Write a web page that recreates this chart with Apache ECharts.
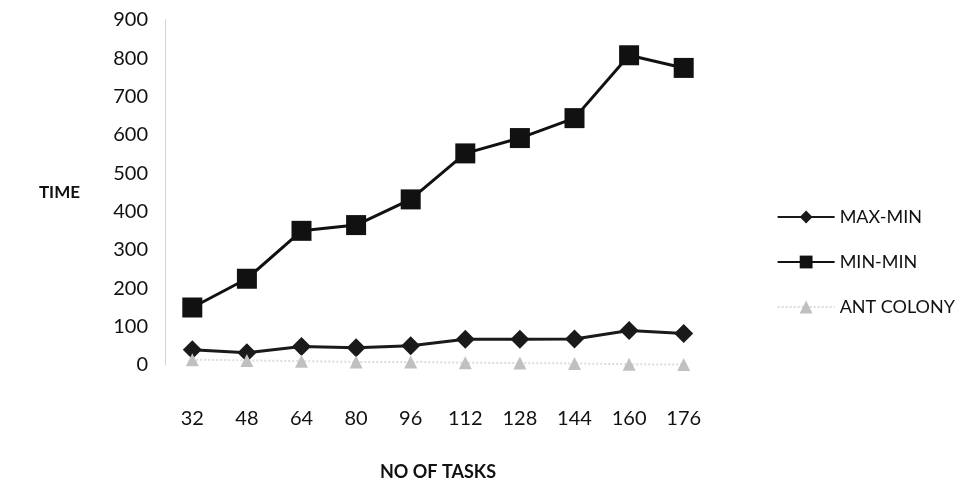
<!DOCTYPE html>
<html>
<head>
<meta charset="utf-8">
<script src="https://cdn.jsdelivr.net/npm/echarts@6/dist/echarts.min.js"></script>
<style>
  html, body { margin: 0; padding: 0; background: #fff; }
  #chart { width: 966px; height: 486px; }
</style>
</head>
<body>
<div id="chart"></div>
<script>
// tasks on the x axis
var tasks = ['32', '48', '64', '80', '96', '112', '128', '144', '160', '176'];
// times
var maxMin = [40, 32, 48, 45, 50, 67, 67, 68, 90, 82];
var minMin = [150, 225, 350, 365, 432, 552, 592, 644, 808, 775];
var antColony = [14, 12, 10, 8, 8, 6, 5, 4, 2, 1];

var dom = document.getElementById('chart');
var myChart = echarts.init(dom);
var font = 'Lato, "Open Sans", sans-serif';

var option = {
    animation: false,
    grid: { left: 165, right: 255, top: 20, bottom: 113 },
    legend: {
        orient: 'vertical',
        right: 6,
        top: 203,
        itemWidth: 57,
        itemHeight: 16,
        itemGap: 27,
        textStyle: { fontFamily: font, fontSize: 18, color: '#111' },
        data: ['MAX-MIN', 'MIN-MIN', 'ANT COLONY']
    },
    xAxis: {
        type: 'category',
        data: tasks,
        name: 'NO OF TASKS',
        nameLocation: 'middle',
        nameGap: 98,
        nameTextStyle: { fontFamily: font, fontSize: 18, fontWeight: 'bold', color: '#111' },
        axisLine: { show: false },
        axisTick: { show: false },
        axisLabel: { margin: 44, fontFamily: font, fontSize: 20, color: '#111' }
    },
    yAxis: {
        type: 'value',
        min: 0,
        max: 900,
        interval: 100,
        name: 'TIME',
        nameLocation: 'middle',
        nameRotate: 0,
        nameGap: 85,
        nameTextStyle: { fontFamily: font, fontSize: 17, fontWeight: 'bold', color: '#111' },
        axisLine: { show: true, lineStyle: { color: '#ccc', type: 'dotted', width: 1 } },
        axisTick: { show: false },
        splitLine: { show: false },
        axisLabel: { margin: 17, fontFamily: font, fontSize: 20, color: '#111' }
    },
    series: [
        {
            name: 'MAX-MIN',
            type: 'line',
            data: maxMin,
            symbol: 'diamond',
            symbolSize: 19,
            color: '#1a1a1a',
            lineStyle: { width: 3, color: '#1a1a1a' },
            itemStyle: { color: '#1a1a1a' }
        },
        {
            name: 'MIN-MIN',
            type: 'line',
            data: minMin,
            symbol: 'rect',
            symbolSize: 20,
            color: '#111',
            lineStyle: { width: 3, color: '#111' },
            itemStyle: { color: '#111' }
        },
        {
            name: 'ANT COLONY',
            type: 'line',
            data: antColony,
            symbol: 'triangle',
            symbolSize: 13,
            color: '#c8c8c8',
            lineStyle: { width: 2, color: '#dcdcdc', type: 'dotted' },
            itemStyle: { color: '#c0c0c0' }
        }
    ]
};
myChart.setOption(option);
</script>
</body>
</html>
